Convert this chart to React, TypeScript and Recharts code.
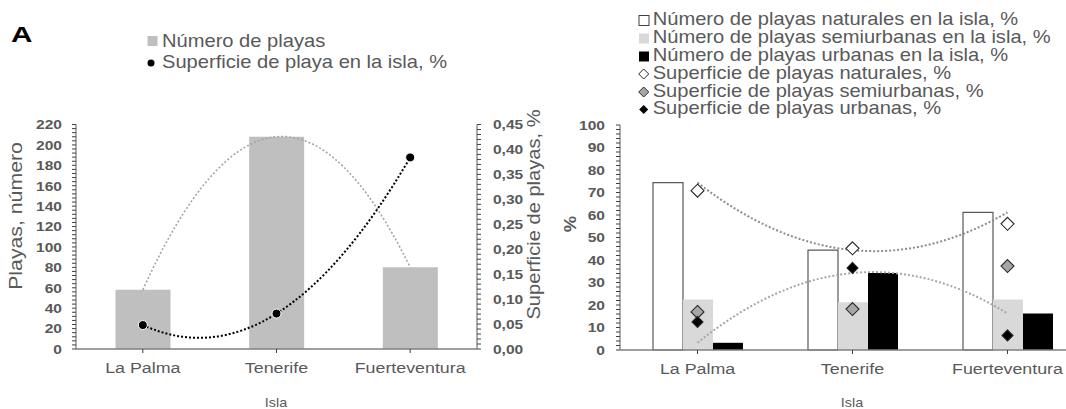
import React from 'react';
import { ComposedChart, Bar, Line, XAxis, YAxis } from 'recharts';

// ---------- shared look ----------
const FONT = '"Liberation Sans", Arial, sans-serif';
const TEXT = '#595959';
const AXIS = '#7f7f7f';
const STRETCH = 1.15; // the chart font is a little wider than Arial

// ---------- panel A: beaches per island ----------
const islas = ['La Palma', 'Tenerife', 'Fuerteventura'];
const numeroPlayas = [58, 208, 80];
const superficiePlaya = [0.048, 0.071, 0.384];
const playasMajorTicks = [0, 20, 40, 60, 80, 100, 120, 140, 160, 180, 200, 220];
const superficieMajorTicks = [0, 0.05, 0.1, 0.15, 0.2, 0.25, 0.3, 0.35, 0.4, 0.45];

// ---------- panel B: share by beach type ----------
const naturales = [74.4, 44.4, 61.2];
const semiurbanas = [22.4, 21.2, 22.4];
const urbanas = [3.2, 34.2, 16.2];
const supNaturales = [70.8, 45.2, 56.1];
const supSemiurbanas = [16.9, 18.2, 37.3];
const supUrbanas = [12.5, 36.5, 6.5];
const pctMajorTicks = [0, 10, 20, 30, 40, 50, 60, 70, 80, 90, 100];

const dataA = islas.map((isla, i) => ({
  isla,
  playas: numeroPlayas[i],
  superficie: superficiePlaya[i],
}));

const dataB = islas.map((isla, i) => ({
  isla,
  naturales: naturales[i],
  semiurbanas: semiurbanas[i],
  urbanas: urbanas[i],
  supNaturales: supNaturales[i],
  supSemiurbanas: supSemiurbanas[i],
  supUrbanas: supUrbanas[i],
}));

// Subdivide each major interval to get the minor tick marks.
function withMinor(major: number[], parts: number): number[] {
  const out: number[] = [];
  for (let i = 0; i < major.length - 1; i++) {
    for (let k = 0; k < parts; k++) {
      out.push(+(major[i] + ((major[i + 1] - major[i]) * k) / parts).toFixed(6));
    }
  }
  out.push(major[major.length - 1]);
  return out;
}

const isMajor = (majors: number[], v: number) => majors.some((m) => Math.abs(m - v) < 1e-9);

// Second-order polynomial trend: with three equally spaced categories the
// fitted parabola passes through the three points, drawn as one quadratic Bézier.
const quadraticTrend = (context: any) => {
  let pts: number[][] = [];
  return {
    areaStart() {},
    areaEnd() {},
    lineStart() {
      pts = [];
    },
    point(x: number, y: number) {
      pts.push([+x, +y]);
    },
    lineEnd() {
      if (pts.length === 3) {
        const [p0, p1, p2] = pts;
        const cx = 2 * p1[0] - (p0[0] + p2[0]) / 2;
        const cy = 2 * p1[1] - (p0[1] + p2[1]) / 2;
        context.moveTo(p0[0], p0[1]);
        context.quadraticCurveTo(cx, cy, p2[0], p2[1]);
      } else {
        pts.forEach((p, i) => (i ? context.lineTo(p[0], p[1]) : context.moveTo(p[0], p[1])));
      }
    },
  };
};

const makeYTick =
  (majors: number[], anchor: 'start' | 'end', fmt: (v: number) => string) => (props: any) => {
    const { x, y, payload } = props;
    const v = payload.value;
    if (!isMajor(majors, v)) return <g />;
    return (
      <text
        transform={`translate(${x},${y}) scale(${STRETCH},1)`}
        textAnchor={anchor}
        dy="0.355em"
        fontFamily={FONT}
        fontWeight="bold"
        fontSize={13.5}
        fill={TEXT}
      >
        {fmt(v)}
      </text>
    );
  };

const XTick = (props: any) => {
  const { x, y, payload } = props;
  return (
    <text
      transform={`translate(${x},${y}) scale(${STRETCH},1)`}
      textAnchor="middle"
      dy="0.71em"
      fontFamily={FONT}
      fontSize={15.5}
      fill={TEXT}
    >
      {payload.value}
    </text>
  );
};

const diamond = (cx: number, cy: number, h: number) =>
  `M${cx},${cy - h}L${cx + h},${cy}L${cx},${cy + h}L${cx - h},${cy}Z`;

const diamondDot = (fill: string, half: number) => (props: any) => {
  const { cx, cy, index } = props;
  if (cx == null || cy == null) return <g key={index} />;
  return <path key={index} d={diamond(cx, cy, half)} fill={fill} stroke="#262626" strokeWidth={1.1} />;
};

type TxtProps = {
  x: number;
  y: number;
  size: number;
  weight?: string;
  anchor?: 'start' | 'middle' | 'end';
  rotate?: number;
  sx?: number;
  fill?: string;
  children: React.ReactNode;
};

const Txt = ({ x, y, size, weight = 'normal', anchor = 'start', rotate = 0, sx = STRETCH, fill = TEXT, children }: TxtProps) => (
  <text
    transform={`translate(${x},${y}) rotate(${rotate}) scale(${sx},1)`}
    fontSize={size}
    fontWeight={weight}
    textAnchor={anchor}
    fill={fill}
    fontFamily={FONT}
  >
    {children}
  </text>
);

const legendB = [
  'Número de playas naturales en la isla, %',
  'Número de playas semiurbanas en la isla, %',
  'Número de playas urbanas en la isla, %',
  'Superficie de playas naturales, %',
  'Superficie de playas semiurbanas, %',
  'Superficie de playas urbanas, %',
];

const fmtInt = (v: number) => String(v);
const fmtDec = (v: number) => v.toFixed(2).replace('.', ',');

export default function App() {
  const axisLine = { stroke: AXIS, strokeWidth: 1.3 };
  const tickLine = { stroke: '#404040', strokeWidth: 1 };

  return (
    <div
      style={{
        position: 'absolute',
        left: 0,
        top: 0,
        width: 1066,
        height: 409,
        overflow: 'hidden',
        background: '#fff',
      }}
    >
      {/* Panel A */}
      <div style={{ position: 'absolute', left: 0, top: 0 }}>
        <ComposedChart
          width={560}
          height={409}
          data={dataA}
          margin={{ top: 124.5, right: 0, bottom: 0, left: 0 }}
          barCategoryGap={39.5}
        >
          <XAxis
            dataKey="isla"
            height={60}
            tickSize={4}
            tickMargin={9}
            tick={XTick}
            axisLine={axisLine}
            tickLine={tickLine}
          />
          <YAxis
            yAxisId="left"
            domain={[0, 220]}
            ticks={withMinor(playasMajorTicks, 5)}
            interval={0}
            width={76}
            tickSize={4}
            tickMargin={10}
            tick={makeYTick(playasMajorTicks, 'end', fmtInt)}
            axisLine={axisLine}
            tickLine={tickLine}
          />
          <YAxis
            yAxisId="right"
            orientation="right"
            domain={[0, 0.45]}
            ticks={withMinor(superficieMajorTicks, 5)}
            interval={0}
            width={83}
            tickSize={4}
            tickMargin={12}
            tick={makeYTick(superficieMajorTicks, 'start', fmtDec)}
            axisLine={axisLine}
            tickLine={tickLine}
          />
          <Bar yAxisId="left" dataKey="playas" fill="#bfbfbf" isAnimationActive={false} />
          <Line
            yAxisId="left"
            dataKey="playas"
            type={quadraticTrend as any}
            stroke="#a6a6a6"
            strokeWidth={1.6}
            strokeDasharray="2 2"
            dot={false}
            activeDot={false}
            isAnimationActive={false}
          />
          <Line
            yAxisId="right"
            dataKey="superficie"
            type={quadraticTrend as any}
            stroke="#000"
            strokeWidth={2}
            strokeDasharray="2 2"
            dot={false}
            activeDot={false}
            isAnimationActive={false}
          />
          <Line
            yAxisId="right"
            dataKey="superficie"
            stroke="none"
            dot={{ r: 4.5, fill: '#000', stroke: '#fff', strokeWidth: 1 }}
            activeDot={false}
            isAnimationActive={false}
          />
        </ComposedChart>
      </div>

      {/* Panel B */}
      <div style={{ position: 'absolute', left: 548, top: 0 }}>
        <ComposedChart
          width={547}
          height={409}
          data={dataB}
          margin={{ top: 125, right: 10, bottom: 0, left: 0 }}
          barCategoryGap={33}
          barGap={0}
        >
          <XAxis
            dataKey="isla"
            height={59}
            tickSize={4}
            tickMargin={9}
            tick={XTick}
            axisLine={axisLine}
            tickLine={tickLine}
          />
          <YAxis
            domain={[0, 100]}
            ticks={withMinor(pctMajorTicks, 5)}
            interval={0}
            width={72}
            tickSize={4}
            tickMargin={11}
            tick={makeYTick(pctMajorTicks, 'end', fmtInt)}
            axisLine={axisLine}
            tickLine={tickLine}
          />
          <Bar dataKey="naturales" fill="#ffffff" stroke="#595959" strokeWidth={1.2} isAnimationActive={false} />
          <Bar dataKey="semiurbanas" fill="#d9d9d9" isAnimationActive={false} />
          <Bar dataKey="urbanas" fill="#000000" isAnimationActive={false} />
          <Line
            dataKey="naturales"
            type={quadraticTrend as any}
            stroke="#8c8c8c"
            strokeWidth={2}
            strokeDasharray="2 2"
            dot={false}
            activeDot={false}
            isAnimationActive={false}
          />
          <Line
            dataKey="urbanas"
            type={quadraticTrend as any}
            stroke="#a6a6a6"
            strokeWidth={2}
            strokeDasharray="2 2"
            dot={false}
            activeDot={false}
            isAnimationActive={false}
          />
          <Line dataKey="supNaturales" stroke="none" dot={diamondDot('#ffffff', 6.5)} activeDot={false} isAnimationActive={false} />
          <Line dataKey="supSemiurbanas" stroke="none" dot={diamondDot('#a6a6a6', 6.5)} activeDot={false} isAnimationActive={false} />
          <Line dataKey="supUrbanas" stroke="none" dot={diamondDot('#000000', 5.5)} activeDot={false} isAnimationActive={false} />
        </ComposedChart>
      </div>

      {/* Titles, axis titles and legends */}
      <svg width={1066} height={409} style={{ position: 'absolute', left: 0, top: 0, pointerEvents: 'none' }}>
        <Txt x={11} y={41.5} size={22} weight="bold" fill="#000" sx={1.35}>
          A
        </Txt>

        {/* legend, panel A */}
        <rect x={147.5} y={36} width={10} height={10} fill="#bfbfbf" />
        <Txt x={162} y={46.5} size={17.5}>
          Número de playas
        </Txt>
        <circle cx={151} cy={63} r={3.5} fill="#000" />
        <Txt x={162} y={68} size={17.5}>
          Superficie de playa en la isla, %
        </Txt>

        <Txt x={22} y={216} size={18.5} anchor="middle" rotate={-90}>
          Playas, número
        </Txt>
        <Txt x={540} y={214.5} size={17.5} anchor="middle" rotate={-90}>
          Superficie de playas, %
        </Txt>
        <Txt x={276} y={407} size={12.5} anchor="middle">
          Isla
        </Txt>

        {/* legend, panel B */}
        <rect x={639} y={15.5} width={10} height={10} fill="#fff" stroke="#404040" strokeWidth={1} />
        <rect x={639} y={33.5} width={10} height={10} fill="#d9d9d9" />
        <rect x={639} y={51.5} width={10} height={10} fill="#000" />
        <path d={diamond(643.7, 74, 5)} fill="#fff" stroke="#262626" strokeWidth={1} />
        <path d={diamond(643.7, 92, 5)} fill="#a6a6a6" stroke="#262626" strokeWidth={1} />
        <path d={diamond(643.7, 109.5, 4.5)} fill="#000" />
        {legendB.map((label, i) => (
          <Txt key={label} x={652.7} y={[25, 42.8, 60.7, 78.5, 96.5, 114.3][i]} size={17.5}>
            {label}
          </Txt>
        ))}

        <Txt x={575.5} y={224} size={16} weight="bold" anchor="middle" rotate={-90}>
          %
        </Txt>
        <Txt x={852} y={407} size={12.5} anchor="middle">
          Isla
        </Txt>
      </svg>
    </div>
  );
}
